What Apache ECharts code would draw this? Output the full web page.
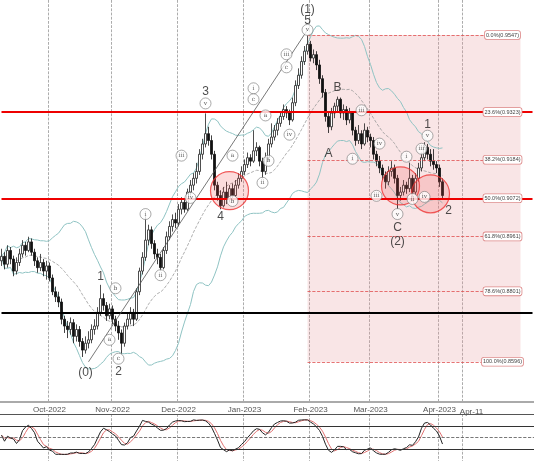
<!DOCTYPE html>
<html><head><meta charset="utf-8">
<script src="https://cdn.jsdelivr.net/npm/echarts@6/dist/echarts.min.js"></script>
<style>html,body{margin:0;padding:0;background:#fff}#c{width:534px;height:462px}</style>
</head><body><div id="c"></div>
<script>
const startDate = '2022-09-09';
const totalDays = 178;
const closes = [.8903,.8880,.8920,.8895,.8860,.8885,.8910,.8935,.8920,.8945,.8915,.8890,.8870,.8885,.8860,.8875,.8840,.8800,.8785,.8770,.8720,.8700,.8690,.8710,.8670,.8690,.8655,.8630,.8650,.8660,.8690,.8700,.8740,.8780,.8760,.8730,.8750,.8720,.8700,.8680,.8650,.8700,.8720,.8740,.8720,.8800,.8860,.8900,.8950,.8980,.8940,.8910,.8900,.8870,.8920,.8960,.8990,.9010,.9000,.9040,.9060,.9040,.9090,.9110,.9130,.9150,.9200,.9230,.9260,.9240,.9200,.9110,.9080,.9050,.9090,.9070,.9100,.9080,.9110,.9130,.9150,.9170,.9190,.9180,.9210,.9220,.9180,.9150,.9190,.9230,.9250,.9270,.9290,.9310,.9330,.9320,.9300,.9350,.9400,.9430,.9470,.9500,.9520,.9480,.9490,.9460,.9420,.9380,.9310,.9280,.9320,.9340,.9360,.9320,.9330,.9300,.9320,.9270,.9240,.9260,.9230,.9270,.9250,.9240,.9200,.9180,.9160,.9140,.9120,.9150,.9160,.9130,.9080,.9090,.9110,.9100,.9130,.9090,.9130,.9160,.9190,.9220,.9200,.9180,.9170,.9160,.9120,.9080];
const lows = [.8875,.8865,.8870,.8880,.8845,.8850,.8875,.8900,.8905,.8915,.8905,.8875,.8855,.8860,.8845,.8835,.8830,.8790,.8770,.8755,.8705,.8680,.8665,.8675,.8650,.8655,.8640,.8610,.8620,.8635,.8650,.8675,.8690,.8730,.8745,.8715,.8720,.8705,.8685,.8660,.8620,.8640,.8690,.8705,.8700,.8715,.8790,.8850,.8890,.8935,.8925,.8895,.8880,.8860,.8865,.8910,.8950,.8975,.8985,.8990,.9025,.9030,.9035,.9080,.9095,.9115,.9140,.9185,.9220,.9225,.9185,.9095,.9065,.9040,.9045,.9055,.9060,.9070,.9075,.9100,.9120,.9140,.9160,.9165,.9175,.9195,.9165,.9130,.9140,.9180,.9220,.9240,.9255,.9280,.9300,.9305,.9285,.9295,.9340,.9390,.9420,.9460,.9490,.9470,.9465,.9445,.9405,.9365,.9295,.9262,.9270,.9305,.9320,.9305,.9300,.9285,.9290,.9255,.9225,.9230,.9215,.9225,.9235,.9220,.9185,.9165,.9145,.9125,.9100,.9110,.9135,.9115,.9040,.9065,.9080,.9085,.9090,.9075,.9080,.9120,.9150,.9180,.9185,.9165,.9155,.9145,.9105,.9070];
const highs = [.8925,.8915,.8935,.8930,.8905,.8900,.8925,.8950,.8945,.8960,.8955,.8925,.8900,.8910,.8895,.8890,.8885,.8850,.8815,.8800,.8780,.8730,.8715,.8725,.8720,.8705,.8700,.8665,.8670,.8685,.8705,.8720,.8755,.8820,.8795,.8770,.8765,.8760,.8730,.8715,.8690,.8710,.8735,.8755,.8750,.8810,.8870,.8915,.9020,.8995,.8990,.8950,.8925,.8910,.8930,.8975,.9005,.9025,.9030,.9055,.9075,.9070,.9100,.9125,.9145,.9175,.9215,.9245,.9319,.9280,.9255,.9210,.9120,.9095,.9105,.9120,.9110,.9115,.9125,.9145,.9165,.9185,.9205,.9200,.9270,.9235,.9225,.9190,.9205,.9245,.9290,.9285,.9305,.9325,.9345,.9340,.9330,.9365,.9415,.9450,.9485,.9515,.9547,.9530,.9505,.9500,.9475,.9430,.9390,.9320,.9335,.9350,.9368,.9365,.9345,.9340,.9335,.9325,.9280,.9285,.9270,.9290,.9280,.9260,.9250,.9210,.9195,.9170,.9150,.9165,.9180,.9170,.9140,.9105,.9125,.9120,.9175,.9140,.9145,.9175,.9205,.9235,.9230,.9215,.9215,.9180,.9170,.9130];
const fibLevels = [0.9547, 0.9323, 0.9184, 0.9072, 0.8961, 0.8801, 0.8596];
const fibLabels = ['0.0%(0.9547)','23.6%(0.9323)','38.2%(0.9184)','50.0%(0.9072)','61.8%(0.8961)','78.6%(0.8801)','100.0%(0.8596)'];
const blackLevel = 0.8739;
// [text, index, value, circled]
const marks = [
 ['(1)',102,.9622,0],['5',102,.9590,0],['v',102,.9562,1],
 ['3',68,.9382,0],['v',68,.9348,1],['4',73,.9018,0],['b',77,.9064,1],['a',77,.9196,1],
 ['(0)',28,.8565,0],['1',33,.8845,0],['b',38,.8810,1],['a',36,.8660,1],['c',39,.8605,1],['2',39,.8567,0],
 ['i',48,.9026,1],['ii',53,.8848,1],['iii',60,.9196,1],['iv',63,.9073,1],
 ['i',84,.9392,1],['c',84,.9360,1],['a',88,.9313,1],['b',89,.9181,1],['ii',87,.9117,1],
 ['iii',95,.9491,1],['c',95,.9453,1],['iv',96,.9257,1],
 ['A',109,.9202,0],['B',112,.9395,0],['i',117,.9187,1],['iii',120,.9328,1],['iv',126,.9231,1],
 ['iii',125,.9079,1],['i',135,.9193,1],['v',132,.9026,1],['C',132,.8985,0],['(2)',132,.8947,0],
 ['ii',137,.9070,1],['iii',140,.9216,1],['v',142,.9254,1],['1',142,.9286,0],['iv',141,.9076,1],['2',149,.9035,0]
];
const redCircles = [[76,.9094],[133,.9108],[143,.9085]];
const waveLine = [[29,.8596],[102,.9562]];

const dates=[]; {let d=new Date(startDate+'T00:00:00Z'); while(dates.length<totalDays){const w=d.getUTCDay(); if(dates.length>=closes.length || (w!==0&&w!==6)) dates.push(d.toISOString().slice(0,10)); d.setUTCDate(d.getUTCDate()+1);}}
const mon=['Jan','Feb','Mar','Apr','May','Jun','Jul','Aug','Sep','Oct','Nov','Dec'];
const labelIdx = {}; let apr11=-1;
dates.forEach((s,i)=>{ if(i>0 && s<'2023-05-01' && s.slice(5,7)!==dates[i-1].slice(5,7)) labelIdx[i]=mon[+s.slice(5,7)-1]+'-'+s.slice(0,4); if(s==='2023-04-11'){labelIdx[i]='';apr11=i;}});
const candles = closes.map((c,i)=>[i?closes[i-1]:.8890, c, lows[i], highs[i]]);
const mid=[],up=[],dn=[];
closes.forEach((c,i)=>{const s=closes.slice(Math.max(0,i-19),i+1);const m=s.reduce((a,b)=>a+b,0)/s.length;const sd=Math.sqrt(s.reduce((a,b)=>a+(b-m)*(b-m),0)/s.length);mid.push(m);up.push(m+2*sd);dn.push(m-2*sd);});
const rawK=closes.map((c,i)=>{const a=Math.max(0,i-13);const hh=Math.max(...highs.slice(a,i+1)),ll=Math.min(...lows.slice(a,i+1));return 100*(c-ll)/(hh-ll);});
const sma=(arr,n)=>arr.map((v,i)=>{const s=arr.slice(Math.max(0,i-n+1),i+1);return s.reduce((a,b)=>a+b,0)/s.length;});
const K=sma(rawK,3), D=sma(K,3);

const last=totalDays-1;
const hLine=(v,color,w,type)=>[{coord:[0,v],lineStyle:{color,width:w,type}},{coord:[last,v]}];
const fibLines = fibLevels.filter((v,i)=>i!==1&&i!==3).map(v=>[{coord:[102,v],lineStyle:{color:'#e05050',width:0.8,type:'dashed'}},{coord:[161,v]}]);
const fibLabelPts = fibLevels.map((v,i)=>({coord:[167,v],value:fibLabels[i]}));
const chart=echarts.init(document.getElementById('c'));
const gridInt=(i)=>labelIdx[i]!==undefined;
chart.setOption({
 animation:false,
 grid:[{left:0,right:0,top:0,bottom:60},{left:0,right:0,top:414,height:47}],
 xAxis:[{type:'category',data:dates,gridIndex:0,axisLine:{lineStyle:{color:'#aaa',width:2}},axisTick:{interval:gridInt,length:3,lineStyle:{color:'#666'}},
   axisLabel:{interval:gridInt,formatter:(v,i)=>labelIdx[i]||'',fontSize:8,color:'#555',margin:4,fontFamily:'Liberation Sans'},
   splitLine:{show:true,interval:gridInt,lineStyle:{type:'dashed',color:'#888',width:0.7}}},
  {type:'category',data:dates,gridIndex:1,axisLine:{show:false},axisTick:{show:false},axisLabel:{show:false},
   splitLine:{show:true,interval:gridInt,lineStyle:{type:'dashed',color:'#888',width:0.7}}}],
 yAxis:[{type:'value',gridIndex:0,min:0.8479,max:0.9649,show:false},{type:'value',gridIndex:1,min:-10,max:110,show:false}],
 series:[
  {type:'candlestick',data:candles,barWidth:2,itemStyle:{color:'#fff',color0:'#111',borderColor:'#222',borderColor0:'#111',borderWidth:0.8},
   markArea:{silent:true,itemStyle:{color:'rgba(230,150,155,0.25)'},data:[[{coord:[102,0.9547]},{coord:[173,0.8596]}]]},
   markLine:{silent:true,symbol:'none',label:{show:false},data:[
     hLine(fibLevels[1],'#e00',2,'solid'),hLine(fibLevels[3],'#e00',2,'solid'),hLine(blackLevel,'#000',2,'solid'),
     ...fibLines,
     [{coord:waveLine[0],lineStyle:{color:'#555',width:0.8,type:'solid'}},{coord:waveLine[1]}]
   ]},
   markPoint:{silent:true,symbol:'rect',symbolSize:1,itemStyle:{color:'rgba(0,0,0,0)'},
     label:{show:true,formatter:p=>p.value,fontSize:5.5,color:'#444',backgroundColor:'#fff',borderColor:'#d88',borderWidth:0.8,borderRadius:2,padding:[1,1]},
     data:[...fibLabelPts,
       {coord:[apr11,0.8479],value:'Apr-11',label:{backgroundColor:'transparent',borderWidth:0,fontSize:8,color:'#555',offset:[8,10],fontFamily:'Liberation Sans'}}]}
  },
  {type:'line',data:up,symbol:'none',lineStyle:{color:'#8fc3c3',width:1},z:1},
  {type:'line',data:dn,symbol:'none',lineStyle:{color:'#8fc3c3',width:1},z:1},
  {type:'line',data:mid,symbol:'none',lineStyle:{color:'#999',width:0.8,type:'dashed'},z:1},
  {type:'scatter',data:redCircles,symbolSize:38,itemStyle:{color:'rgba(240,80,80,0.25)',borderColor:'#e33',borderWidth:1.2},z:4},
  {type:'scatter',data:marks.filter(m=>m[3]).map(m=>({value:[m[1],m[2]],label:{formatter:m[0]}})),symbolSize:11,
   itemStyle:{color:'#fff',borderColor:'#777',borderWidth:0.8},label:{show:true,position:'inside',fontSize:6,color:'#333',fontFamily:'DejaVu Serif'},z:5},
  {type:'scatter',data:marks.filter(m=>!m[3]).map(m=>({value:[m[1],m[2]],label:{formatter:m[0]}})),symbolSize:1,
   itemStyle:{color:'rgba(0,0,0,0)'},label:{show:true,position:'inside',fontSize:12,color:'#222',fontFamily:'Liberation Sans'},z:5},
  {type:'line',xAxisIndex:1,yAxisIndex:1,data:D,symbol:'none',lineStyle:{color:'#e07070',width:1},
   markLine:{silent:true,symbol:'none',label:{show:false},data:[
     {yAxis:80,lineStyle:{color:'#333',width:1,type:'solid'}},{yAxis:20,lineStyle:{color:'#333',width:1,type:'solid'}},
     {yAxis:50,lineStyle:{color:'#555',width:0.8,type:'dashed'}},{yAxis:110,lineStyle:{color:'#555',width:1,type:'solid'}}]}},
  {type:'line',xAxisIndex:1,yAxisIndex:1,data:K,symbol:'none',lineStyle:{color:'#222',width:1}}
 ]
});
</script></body></html>
